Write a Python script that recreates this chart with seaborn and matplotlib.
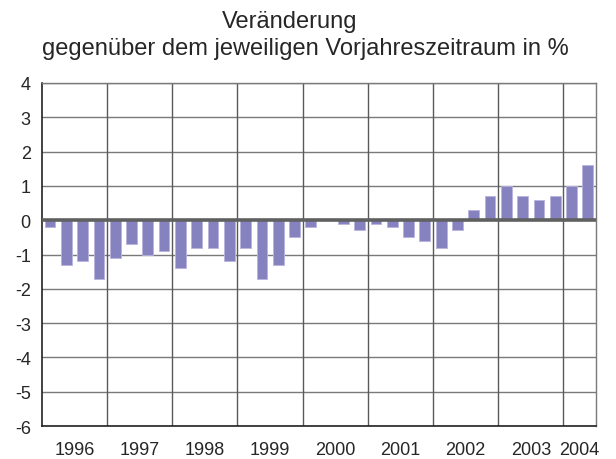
import matplotlib
matplotlib.use("Agg")
import matplotlib.pyplot as plt
import seaborn as sns
import pandas as pd
import numpy as np

quarters = ["1996Q1","1996Q2","1996Q3","1996Q4",
            "1997Q1","1997Q2","1997Q3","1997Q4",
            "1998Q1","1998Q2","1998Q3","1998Q4",
            "1999Q1","1999Q2","1999Q3","1999Q4",
            "2000Q1","2000Q2","2000Q3","2000Q4",
            "2001Q1","2001Q2","2001Q3","2001Q4",
            "2002Q1","2002Q2","2002Q3","2002Q4",
            "2003Q1","2003Q2","2003Q3","2003Q4",
            "2004Q1","2004Q2"]
values = [-0.2, -1.3, -1.2, -1.7,
          -1.1, -0.7, -1.0, -0.9,
          -1.4, -0.8, -0.8, -1.2,
          -0.8, -1.7, -1.3, -0.5,
          -0.2, 0.0, -0.1, -0.3,
          -0.1, -0.2, -0.5, -0.6,
          -0.8, -0.3, 0.3, 0.7,
          1.0, 0.7, 0.6, 0.7,
          1.0, 1.6]
year_labels = ["1996","1997","1998","1999","2000","2001","2002","2003","2004"]
y_ticks = [4, 3, 2, 1, 0, -1, -2, -3, -4, -5, -6]

df = pd.DataFrame({"q": quarters, "v": values})

sns.set_style("white")
plt.rcParams["font.family"] = ["Liberation Sans", "DejaVu Sans"]

fig = plt.figure(figsize=(6.16, 4.6), dpi=100)
ax = fig.add_axes([0.068, 0.0717, 0.8995, 0.7457])

sns.barplot(data=df, x="q", y="v", ax=ax, color="#8682c0", saturation=1,
            width=0.66, edgecolor="#b8b4e0", linewidth=0.6, zorder=3)

n = len(quarters)
ax.set_xlim(-0.5, n - 0.5)
ax.set_ylim(-6, 4)

# horizontal grid
for t in y_ticks:
    if t != 0:
        ax.axhline(t, color="#7a7a7a", lw=1.0, zorder=1)
ax.axhline(0, color="#606060", lw=2.6, zorder=4)

# vertical year separators
starts = [-0.5 + 4 * i for i in range(len(year_labels))]
for s in starts[1:]:
    ax.axvline(s, color="#5a5a5a", lw=1.0, zorder=1)

# year label positions: centre of each year's quarters
centers = []
for i, y in enumerate(year_labels):
    idx = [k for k, q in enumerate(quarters) if q.startswith(y)]
    centers.append((idx[0] + idx[-1]) / 2)
ax.set_xticks(centers)
ax.set_xticklabels(year_labels, fontsize=13)
ax.tick_params(axis="x", length=0, pad=11)

ax.set_yticks(y_ticks)
ax.set_yticklabels([str(t) for t in y_ticks], fontsize=13)
ax.tick_params(axis="y", length=6, width=1, color="#222222", pad=2, direction="out")
ax.set_xlabel("")
ax.set_ylabel("")

for side in ["top", "right"]:
    ax.spines[side].set_color("#7a7a7a")
    ax.spines[side].set_linewidth(1.0)
for side in ["left", "bottom"]:
    ax.spines[side].set_color("#222222")
    ax.spines[side].set_linewidth(1.2)

fig.text(0.4708, 0.9398, "Veränderung", ha="center", va="baseline", fontsize=17)
fig.text(0.496, 0.8804, "gegenüber dem jeweiligen Vorjahreszeitraum in %",
         ha="center", va="baseline", fontsize=17)

fig.savefig("out.png", dpi=100)
